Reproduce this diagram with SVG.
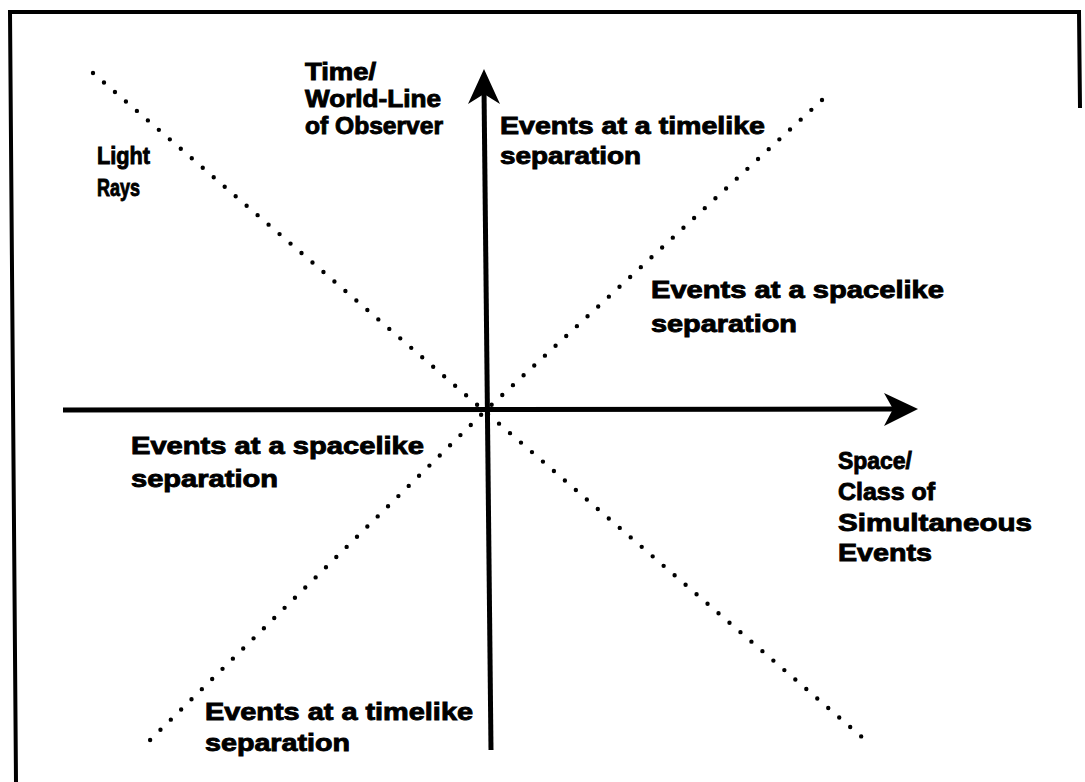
<svg xmlns="http://www.w3.org/2000/svg" width="1085" height="782" viewBox="0 0 1085 782">
<style>
.t{font-family:"Liberation Sans",Arial,sans-serif;font-weight:bold;font-size:24px;fill:#000;stroke:#000;stroke-width:0.9;}
.s{font-size:23px;}
.dots{fill:none;stroke:#000;stroke-width:4.4;stroke-linecap:round;stroke-dasharray:0 14.5;}
.axis{fill:none;stroke:#000;stroke-width:5;}
</style>
<rect width="1085" height="782" fill="#fff"/>
<path d="M16,782 L10,12 L1079,12 L1080,108" fill="none" stroke="#000" stroke-width="4"/>
<g id="connectors">
<line class="dots" x1="93" y1="73" x2="863" y2="738"/>
<polyline class="dots" points="822,100 486,410 145,745"/>
<line class="axis" x1="484" y1="88" x2="491" y2="750"/>
<path d="M484,69 L500,104 L484,94 L468,104 Z" fill="#000"/>
<line class="axis" x1="63" y1="410" x2="900" y2="409"/>
<path d="M918,409 L884,393 L893,409 L884,426 Z" fill="#000"/>
</g>
<g id="light-rays"><text class="t" x="97" y="164" textLength="53" lengthAdjust="spacingAndGlyphs">Light</text><text class="t" x="97" y="196" textLength="43" lengthAdjust="spacingAndGlyphs">Rays</text></g>
<g id="time-axis-label"><text class="t s" x="305" y="80" textLength="71" lengthAdjust="spacingAndGlyphs">Time/</text><text class="t s" x="305" y="107" textLength="136" lengthAdjust="spacingAndGlyphs">World-Line</text><text class="t s" x="305" y="134" textLength="138" lengthAdjust="spacingAndGlyphs">of Observer</text></g>
<g id="timelike-future"><text class="t" x="500" y="134" textLength="265" lengthAdjust="spacingAndGlyphs">Events at a timelike</text><text class="t" x="500" y="164" textLength="141" lengthAdjust="spacingAndGlyphs">separation</text></g>
<g id="spacelike-right"><text class="t" x="651" y="298" textLength="293" lengthAdjust="spacingAndGlyphs">Events at a spacelike</text><text class="t" x="651" y="332" textLength="146" lengthAdjust="spacingAndGlyphs">separation</text></g>
<g id="spacelike-left"><text class="t" x="131" y="454" textLength="293" lengthAdjust="spacingAndGlyphs">Events at a spacelike</text><text class="t" x="131" y="487" textLength="147" lengthAdjust="spacingAndGlyphs">separation</text></g>
<g id="space-axis-label"><text class="t" x="838" y="469" textLength="74" lengthAdjust="spacingAndGlyphs">Space/</text><text class="t" x="838" y="500" textLength="97" lengthAdjust="spacingAndGlyphs">Class of</text><text class="t" x="838" y="531" textLength="194" lengthAdjust="spacingAndGlyphs">Simultaneous</text><text class="t" x="838" y="561" textLength="94" lengthAdjust="spacingAndGlyphs">Events</text></g>
<g id="timelike-past"><text class="t" x="205" y="720" textLength="268" lengthAdjust="spacingAndGlyphs">Events at a timelike</text><text class="t" x="205" y="751" textLength="145" lengthAdjust="spacingAndGlyphs">separation</text></g>
</svg>
